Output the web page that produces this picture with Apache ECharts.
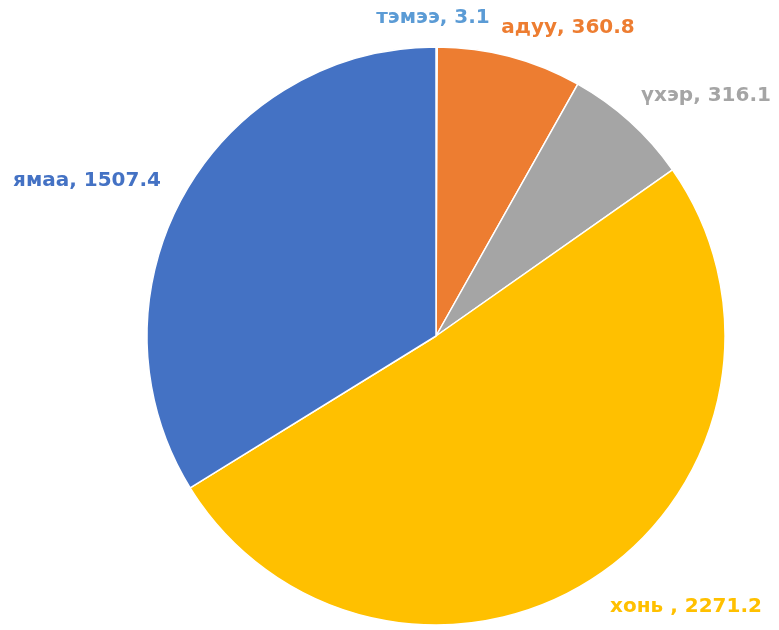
<!DOCTYPE html>
<html><head><meta charset="utf-8">
<script src="https://cdn.jsdelivr.net/npm/echarts@6/dist/echarts.min.js"></script>
<style>html,body{margin:0;padding:0;background:#fff}#c{width:779px;height:630px}</style>
</head><body><div id="c"></div>
<script>
const categories = ['тэмээ', 'адуу', 'үхэр', 'хонь ', 'ямаа'];
const values = [3.1, 360.8, 316.1, 2271.2, 1507.4];
const colors = ['#5B9BD5', '#ED7D31', '#A5A5A5', '#FFC000', '#4472C4'];
const labelPos = [[433, 18], [568, 28], [706, 96], [686, 607], [87, 181]];

const chart = echarts.init(document.getElementById('c'));
chart.setOption({
  animation: false,
  series: [{
    type: 'pie',
    center: [436, 336],
    radius: 289,
    startAngle: 90,
    clockwise: true,
    data: categories.map((n, i) => ({
      name: n, value: values[i],
      itemStyle: { color: colors[i] },
      label: { color: colors[i] }
    })),
    itemStyle: { borderColor: '#fff', borderWidth: 1.5 },
    label: {
      show: true,
      position: 'outside',
      overflow: 'none',
      formatter: p => p.name + ', ' + p.value,
      fontFamily: 'DejaVu Sans',
      fontWeight: 'bold',
      fontSize: 20
    },
    labelLine: { show: false },
    labelLayout: p => ({ x: labelPos[p.dataIndex][0], y: labelPos[p.dataIndex][1], align: 'center', verticalAlign: 'middle' })
  }]
});
</script></body></html>
